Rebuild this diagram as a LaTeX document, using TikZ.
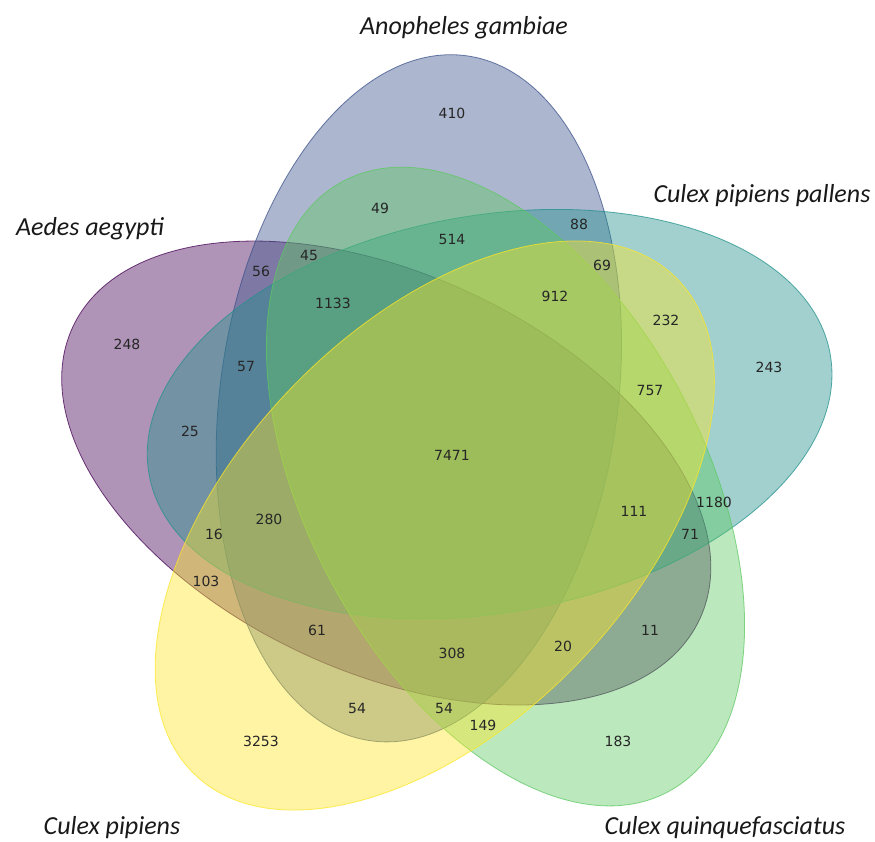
\documentclass[tikz,border=0pt]{standalone}
\usepackage{fontspec}
\setmainfont{DejaVu Sans}
\newfontfamily\labelfont{Carlito}
\definecolor{vA}{RGB}{68,1,84}
\definecolor{vB}{RGB}{59,82,139}
\definecolor{vC}{RGB}{33,145,140}
\definecolor{vD}{RGB}{94,201,98}
\definecolor{vE}{RGB}{253,231,37}
\tikzset{
  setshape/.style={fill=#1, fill opacity=0.42, draw=#1, draw opacity=0.75, line width=0.8pt},
  num/.style={font=\fontsize{14}{16}\selectfont, text=black!85},
  setlabel/.style={font=\labelfont\itshape\fontsize{26}{30}\selectfont, text=black!90}
}
\begin{document}
\begin{tikzpicture}[x=1pt,y=1pt]
\useasboundingbox (0,0) rectangle (875,842);
\fill[white] (0,0) rectangle (875,842);
\begin{scope}[shift={(46pt,12pt)}, x=795pt, y=795pt]
  \path[setshape=vA, rotate around={155:(0.428,0.449)}] (0.428,0.449) ellipse [x radius=0.435, y radius=0.25];
  \path[setshape=vB, rotate around={82:(0.469,0.543)}] (0.469,0.543) ellipse [x radius=0.435, y radius=0.25];
  \path[setshape=vC, rotate around={10:(0.558,0.523)}] (0.558,0.523) ellipse [x radius=0.435, y radius=0.25];
  \path[setshape=vD, rotate around={118:(0.578,0.432)}] (0.578,0.432) ellipse [x radius=0.435, y radius=0.25];
  \path[setshape=vE, rotate around={46:(0.489,0.383)}] (0.489,0.383) ellipse [x radius=0.435, y radius=0.25];
\end{scope}
% region counts
\node[num] (n1) at (452,729) {410};
\node[num] (n2) at (380,634) {49};
\node[num] (n3) at (579,618) {88};
\node[num] (n4) at (452,602) {514};
\node[num] (n5) at (261,571) {56};
\node[num] (n6) at (309,586) {45};
\node[num] (n7) at (602,577) {69};
\node[num] (n8) at (555,546) {912};
\node[num] (n9) at (333,539) {1133};
\node[num] (n10) at (666,522) {232};
\node[num] (n11) at (127,498) {248};
\node[num] (n12) at (246,475) {57};
\node[num] (n13) at (769,475) {243};
\node[num] (n14) at (650,451) {757};
\node[num] (n15) at (190,411) {25};
\node[num] (n16) at (452,387) {7471};
\node[num] (n17) at (714,340) {1180};
\node[num] (n18) at (634,331) {111};
\node[num] (n19) at (269,323) {280};
\node[num] (n20) at (214,308) {16};
\node[num] (n21) at (690,308) {71};
\node[num] (n22) at (206,261) {103};
\node[num] (n23) at (317,212) {61};
\node[num] (n24) at (650,212) {11};
\node[num] (n25) at (563,196) {20};
\node[num] (n26) at (452,189) {308};
\node[num] (n27) at (357,133) {54};
\node[num] (n28) at (444,133) {54};
\node[num] (n29) at (483,117) {149};
\node[num] (n30) at (261,101) {3253};
\node[num] (n31) at (618,101) {183};
% set labels
\node[setlabel] (lB) at (464,814) {Anopheles gambiae};
\node[setlabel] (lC) at (762,646) {Culex pipiens pallens};
\node[setlabel] (lA) at (90,613) {Aedes aegypti};
\node[setlabel] (lE) at (112,14) {Culex pipiens};
\node[setlabel] (lD) at (725,14) {Culex quinquefasciatus};
\end{tikzpicture}
\end{document}
